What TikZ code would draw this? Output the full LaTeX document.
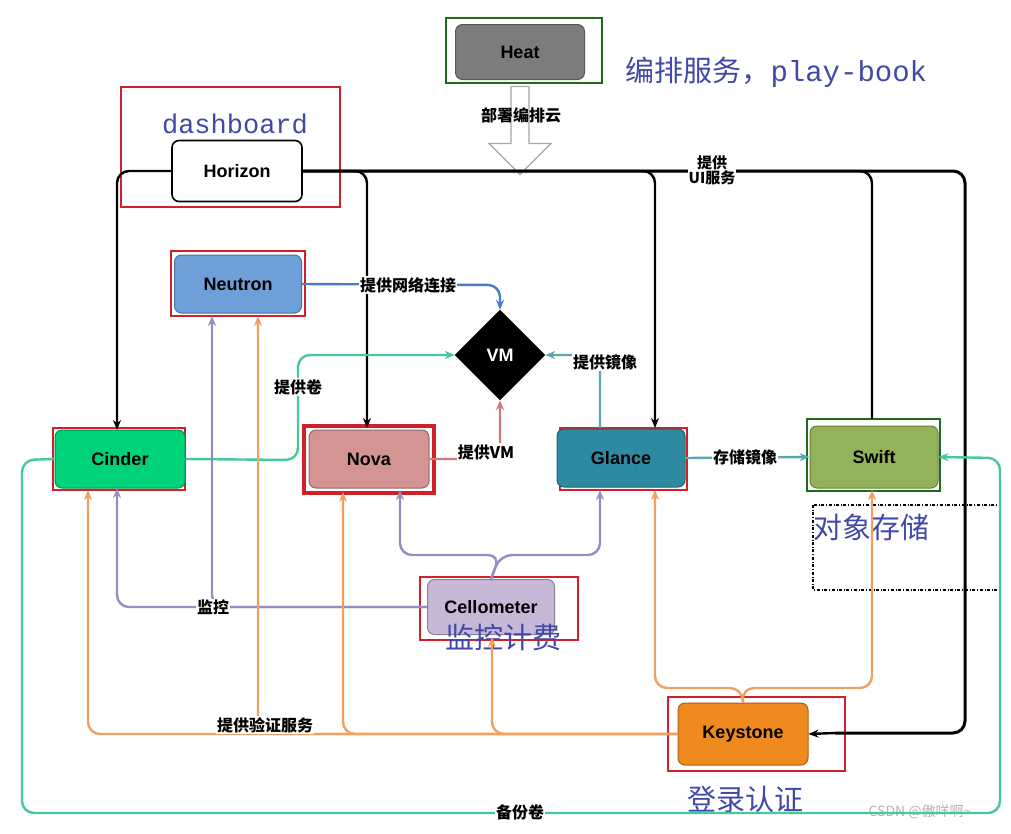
\documentclass[tikz,border=0pt]{standalone}
\usepackage{fontspec}
\setmainfont{Liberation Sans}
\newfontfamily\cjk{Noto Sans CJK SC}
\newfontfamily\monof{Liberation Mono}
\usetikzlibrary{arrows.meta,shapes.geometric,shapes.arrows}
\definecolor{frred}{HTML}{D0202A}
\definecolor{frgreen}{HTML}{1E6B1E}
\definecolor{annblue}{HTML}{4048A8}
\definecolor{lgreen}{HTML}{45C99A}
\definecolor{lpurple}{HTML}{9A8CC0}
\definecolor{lorange}{HTML}{F0A060}
\definecolor{lteal}{HTML}{5AA8B0}
\definecolor{lpink}{HTML}{D07878}
\definecolor{lblue}{HTML}{4A7CC8}
\definecolor{cheat}{HTML}{7C7C7C}
\definecolor{chor}{HTML}{FFFFFF}
\definecolor{cneu}{HTML}{6F9FD8}
\definecolor{ccin}{HTML}{00D27A}
\definecolor{cnova}{HTML}{D49494}
\definecolor{cgla}{HTML}{2E8AA0}
\definecolor{cswi}{HTML}{93B35A}
\definecolor{ccel}{HTML}{C8B8D8}
\definecolor{ckey}{HTML}{EF8A1E}
\tikzset{
 svc/.style={rounded corners=7pt,draw=#1!70!black,line width=1pt,fill=#1,font=\bfseries\fontsize{18}{20}\selectfont},
 frame/.style={draw=#1,line width=2.4pt},
 lbl/.style={fill=white,inner sep=1pt,font=\cjk\bfseries\fontsize{16}{18}\selectfont},
 ann/.style={text=annblue,font=\cjk\fontsize{29}{31}\selectfont},
 arr/.style={-{Stealth[length=10pt,width=8pt]}},
 conn/.style={line width=2.4pt,rounded corners=12pt},
}
\begin{document}
\begin{tikzpicture}[x=1pt,y=-1pt]
\useasboundingbox (0,0) rectangle (1011,833);
% frames
\draw[frame=frgreen] (446,18) rectangle (602,83);
\draw[frame=frred] (121,87) rectangle (340,207);
\draw[frame=frred] (171,251) rectangle (305,316);
\draw[frame=frred] (53,428) rectangle (185,490);
\draw[frame=frred,line width=3.5pt] (304,426) rectangle (434,493);
\draw[frame=frred] (560,428) rectangle (687,490);
\draw[frame=frgreen] (807,419) rectangle (940,491);
\draw[frame=frred] (420,577) rectangle (578,640);
\draw[frame=frred] (668,697) rectangle (845,771);
\draw[dash dot,line width=1.3pt] (813,505) rectangle (1000,590);
% nodes
\node[svc=cheat,minimum width=129pt,minimum height=55pt] (heat) at (520,52) {Heat};
\node[svc=chor,draw=black,line width=1.6pt,minimum width=130pt,minimum height=61pt] (hor) at (237,171) {Horizon};
\node[svc=cneu,minimum width=127pt,minimum height=58pt] (neu) at (238,284) {Neutron};
\node[diamond,fill=black,draw=black,minimum width=90pt,minimum height=90pt,inner sep=0pt,text=white,font=\bfseries\fontsize{18}{20}\selectfont] (vm) at (500,355) {VM};
\node[svc=ccin,minimum width=130pt,minimum height=58pt] (cin) at (120,459) {Cinder};
\node[svc=cnova,minimum width=120pt,minimum height=58pt] (nova) at (369,459) {Nova};
\node[svc=cgla,minimum width=128pt,minimum height=58pt] (gla) at (621,458) {Glance};
\node[svc=cswi,minimum width=128pt,minimum height=62pt] (swi) at (874,457) {Swift};
\node[svc=ccel,minimum width=127pt,minimum height=55pt] (cel) at (491,607) {Cellometer};
\node[svc=ckey,minimum width=130pt,minimum height=62pt] (key) at (743,734) {Keystone};
% annotations
\node[ann,anchor=west] (a1) at (622,72) {编排服务，{\monof play-book}};
\node[text=annblue,font=\monof\fontsize{27}{29}\selectfont] (a2) at (235,124) {dashboard};
\node[ann,anchor=west] (a3) at (810,527) {对象存储};
\node[ann] (a4) at (503,637) {监控计费};
\node[ann] (a5) at (745,800) {登录认证};
\node[text=gray!60,font=\cjk\fontsize{14}{16}\selectfont] (wm) at (920,812) {CSDN @傲咩啊\textasciitilde};
% Heat hollow arrow
\node[single arrow,draw=gray!70,line width=1.2pt,fill=white,shape border rotate=270,minimum height=88pt,minimum width=62pt,single arrow head extend=16pt,inner sep=6pt] (ha) at (520,126) {};
\node[lbl,fill=none] (l0) at (521,115) {部署编排云};
% Horizon bus
\draw[conn,line width=3pt] (hor.east) -- (965,171) -- (965,733) -- (835,733);
\draw[conn,line width=2.4pt,arr] (835,733) -- (key.east);
\draw[conn,arr] (hor.west) -- (117,171) -- (117,430);
\draw[conn,arr] (hor.east) -| (367,428);
\draw[conn,arr] (hor.east) -| (655,428);
\draw[conn] (hor.east) -| (872,419);
\node[lbl,fill=white,align=center,font=\cjk\bfseries\fontsize{15}{15}\selectfont] (l1) at (712,170) {提供\\UI服务};
% to VM
\draw[conn,lblue,arr] (neu.east) -- (500,285) -- (vm.north);
\node[lbl] (l2) at (408,285) {提供网络连接};
\draw[conn,lgreen,arr] (cin.east) -- (298,460) -- (298,355) -- (vm.west);
\node[lbl] (l3) at (298,387) {提供卷};
\draw[conn,lteal,arr] (600,428) -- (600,355) -- (vm.east);
\node[lbl] (l4) at (605,362) {提供镜像};
\draw[conn,lpink,arr] (nova.east) -- (500,459) -- (vm.south);
\node[lbl] (l5) at (486,452) {提供VM};
\draw[conn,lteal,arr] (gla.east) -- (swi.west);
\node[lbl] (l6) at (745,457) {存储镜像};
% Cellometer
\draw[conn,lpurple,arr] (cel.north) -- (500,555) -| (400,490);
\draw[conn,lpurple,arr] (cel.north) -- (500,555) -| (600,490);
\draw[conn,lpurple,arr] (cel.west) -| (117,488);
\draw[conn,lpurple,arr] (cel.west) -| (212,316);
\node[lbl] (l7) at (213,607) {监控};
% Keystone
\draw[conn,lorange,arr] (key.west) -| (88,490);
\draw[conn,lorange,arr] (key.west) -| (258,316);
\draw[conn,lorange,arr] (key.west) -| (343,492);
\draw[conn,lorange,arr] (key.west) -| (492,637);
\draw[conn,lorange,arr] (key.north) -- (742,688) -| (655,490);
\draw[conn,lorange,arr] (key.north) -- (742,688) -| (872,490);
\node[lbl] (l8) at (265,725) {提供验证服务};
% backup
\draw[conn,lgreen,arr] (cin.west) -- (22,460) -- (22,813) -- (1000,813) -- (1000,458) -- (swi.east);
\node[lbl] (l9) at (520,812) {备份卷};
\end{tikzpicture}
\end{document}
